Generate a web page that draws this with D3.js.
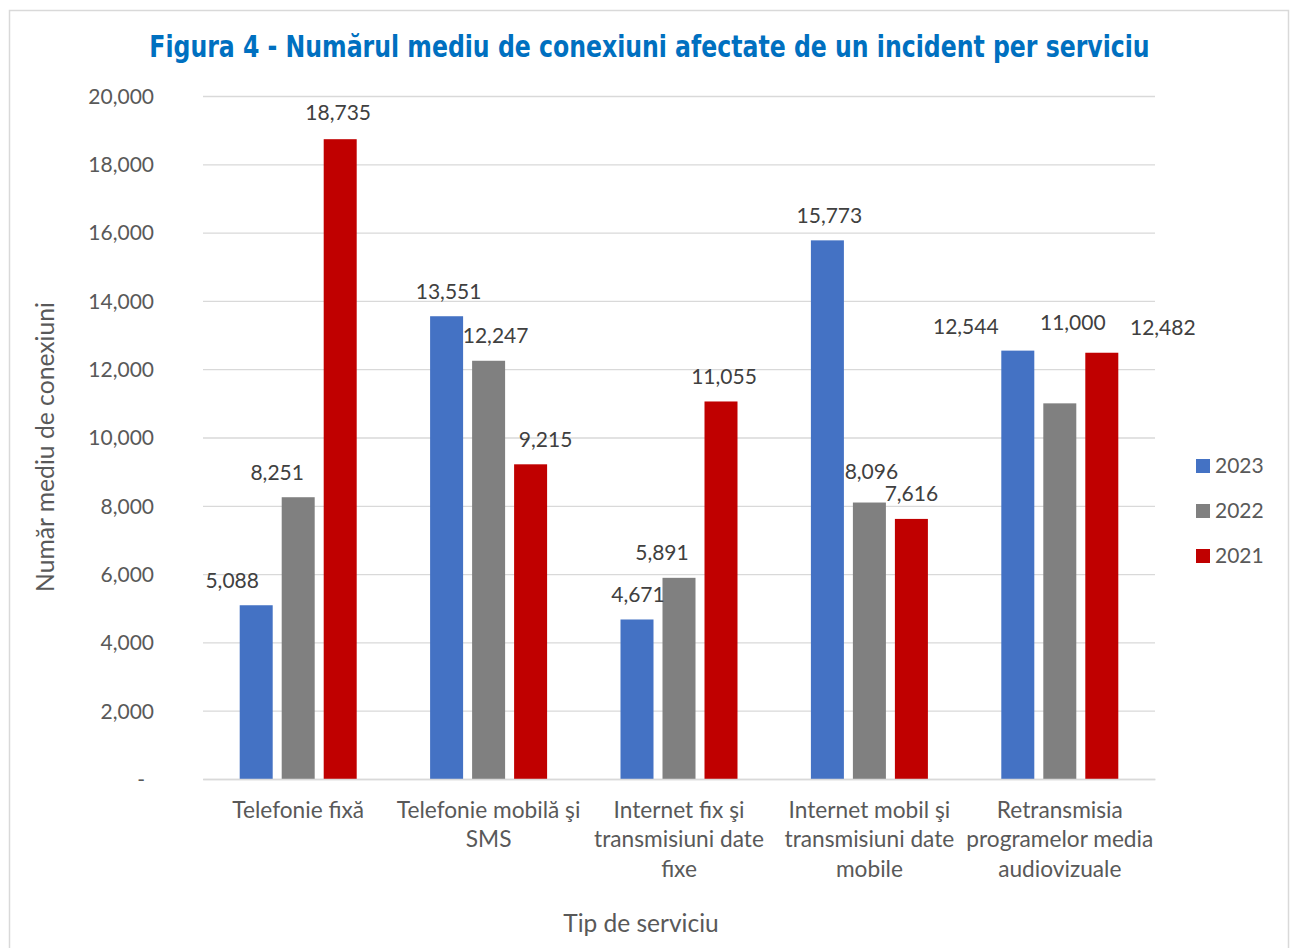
<!DOCTYPE html>
<html>
<head>
<meta charset="utf-8">
<script src="https://cdn.jsdelivr.net/npm/d3@7"></script>
<style>
  html, body { margin: 0; padding: 0; background: #ffffff; }
  svg { display: block; }
</style>
</head>
<body>
<svg id="chart" width="1291" height="948"></svg>
<script>
// Average number of connections affected per incident, by service type and year
const categories = [
  "Telefonie fixă",
  "Telefonie mobilă şi\nSMS",
  "Internet fix şi\ntransmisiuni date\nfixe",
  "Internet mobil şi\ntransmisiuni date\nmobile",
  "Retransmisia\nprogramelor media\naudiovizuale"
];
const seriesNames = ["2023", "2022", "2021"];
const values2023 = [5088, 13551, 4671, 15773, 12544];
const values2022 = [8251, 12247, 5891, 8096, 11000];
const values2021 = [18735, 9215, 11055, 7616, 12482];
const yTicks = [0, 2000, 4000, 6000, 8000, 10000, 12000, 14000, 16000, 18000, 20000];

const seriesColors = ["#4472C4", "#808080", "#C00000"];
const seriesValues = [values2023, values2022, values2021];

// Hand-placed nudges for the value labels so neighbours don't collide
const labelNudge = {
  "2023": [[-24, 0], [2, 0], [1, 0], [2, 0], [-52, 1]],
  "2022": [[-21, 0], [7, 0], [-17, 0], [2, -6], [13, -56]],
  "2021": [[-2, -2], [15, 0], [3, 0], [0, 0], [61, 0]]
};

const FONT = "Lato, 'Liberation Sans', sans-serif";
const TEXT = "#595959";
const GRID = "#d9d9d9";

const svg = d3.select("#chart");

// outer chart frame
svg.append("rect")
  .attr("x", 9.5).attr("y", 10.5)
  .attr("width", 1279).attr("height", 960)
  .attr("fill", "#ffffff")
  .attr("stroke", GRID).attr("stroke-width", 1.5);

const plot = { left: 203, right: 1155, top: 96, bottom: 779 };

const y = d3.scaleLinear().domain([0, 20000]).range([plot.bottom, plot.top]);
const x0 = d3.scaleBand().domain(categories).range([plot.left, plot.right]).padding(0);
const half = x0.bandwidth() / 2;
const x1 = d3.scaleBand().domain(seriesNames)
  .range([half - 63, half + 63])
  .paddingInner(9 / 42).paddingOuter(4.5 / 42);

// gridlines and value axis
const yAxis = d3.axisLeft(y).tickValues(yTicks)
  .tickSize(-(plot.right - plot.left))
  .tickFormat(d => d === 0 ? "-" : d3.format(",")(d));

const gy = svg.append("g")
  .attr("transform", `translate(${plot.left},0)`)
  .call(yAxis);
gy.select(".domain").remove();
gy.selectAll(".tick line").attr("stroke", GRID).attr("stroke-width", 1.3);
gy.selectAll(".tick text")
  .attr("x", -49)
  .attr("dy", "0.35em")
  .attr("fill", TEXT)
  .style("font-family", FONT)
  .style("font-size", "21px");
gy.selectAll(".tick text").filter(d => d === 0).attr("x", -58);

// bars
const rows = categories.map((c, i) => ({
  category: c,
  items: seriesNames.map((s, k) => ({ series: s, value: seriesValues[k][i], color: seriesColors[k], idx: i }))
}));

const groups = svg.append("g").selectAll("g")
  .data(rows).join("g")
  .attr("transform", d => `translate(${x0(d.category)},0)`);

groups.selectAll("rect")
  .data(d => d.items).join("rect")
  .attr("x", d => x1(d.series))
  .attr("width", x1.bandwidth())
  .attr("y", d => y(d.value))
  .attr("height", d => y(0) - y(d.value))
  .attr("fill", d => d.color);

groups.selectAll("text.val")
  .data(d => d.items).join("text")
  .attr("class", "val")
  .attr("x", d => x1(d.series) + x1.bandwidth() / 2 + labelNudge[d.series][d.idx][0])
  .attr("y", d => y(d.value) - 25 + labelNudge[d.series][d.idx][1])
  .attr("dy", "0.35em")
  .attr("text-anchor", "middle")
  .attr("fill", "#404040")
  .style("font-family", FONT)
  .style("font-size", "21px")
  .text(d => d3.format(",")(d.value));

// category axis
const xAxis = d3.axisBottom(x0).tickSize(0).tickFormat("");
const gx = svg.append("g")
  .attr("transform", `translate(0,${plot.bottom})`)
  .call(xAxis);
gx.select(".domain").attr("stroke", GRID).attr("stroke-width", 1.3);

gx.selectAll(".tick").each(function(d) {
  const t = d3.select(this).append("text")
    .attr("text-anchor", "middle")
    .attr("fill", TEXT)
    .style("font-family", FONT)
    .style("font-size", "22.7px");
  d.split("\n").forEach((line, j) => {
    t.append("tspan").attr("x", 0).attr("y", 31 + j * 29.5).attr("dy", "0.35em").text(line);
  });
});

// axis titles
svg.append("text")
  .attr("transform", "translate(45,447) rotate(-90)")
  .attr("text-anchor", "middle")
  .attr("dy", "0.35em")
  .attr("fill", TEXT)
  .style("font-family", FONT)
  .style("font-size", "24.7px")
  .text("Număr mediu de conexiuni");

svg.append("text")
  .attr("x", 641).attr("y", 923)
  .attr("text-anchor", "middle")
  .attr("dy", "0.35em")
  .attr("fill", TEXT)
  .style("font-family", FONT)
  .style("font-size", "24.5px")
  .text("Tip de serviciu");

// title, fitted to its width and given a taller cap height
const title = svg.append("text")
  .attr("x", 0).attr("y", 0)
  .attr("text-anchor", "middle")
  .attr("fill", "#0070C0")
  .style("font-family", "'DejaVu Sans Condensed', 'DejaVu Sans', sans-serif")
  .style("font-weight", "bold")
  .style("font-size", "24px")
  .text("Figura 4 - Numărul mediu de conexiuni afectate de un incident per serviciu");
const tw = title.node().getComputedTextLength();
const fs = 24 * 1001 / tw;
title.style("font-size", fs + "px");
const sy = 22.5 / (0.729 * fs);
title.attr("transform", `translate(649.5,57) scale(1,${sy})`);

// legend
const legend = svg.append("g").selectAll("g")
  .data(seriesNames).join("g")
  .attr("transform", (d, i) => `translate(1196,${466 + i * 45})`);
legend.append("rect")
  .attr("x", 0).attr("y", -7)
  .attr("width", 14).attr("height", 14)
  .attr("fill", (d, i) => seriesColors[i]);
legend.append("text")
  .attr("x", 19).attr("dy", "0.35em")
  .attr("fill", TEXT)
  .style("font-family", FONT)
  .style("font-size", "21px")
  .text(d => d);
</script>
</body>
</html>
